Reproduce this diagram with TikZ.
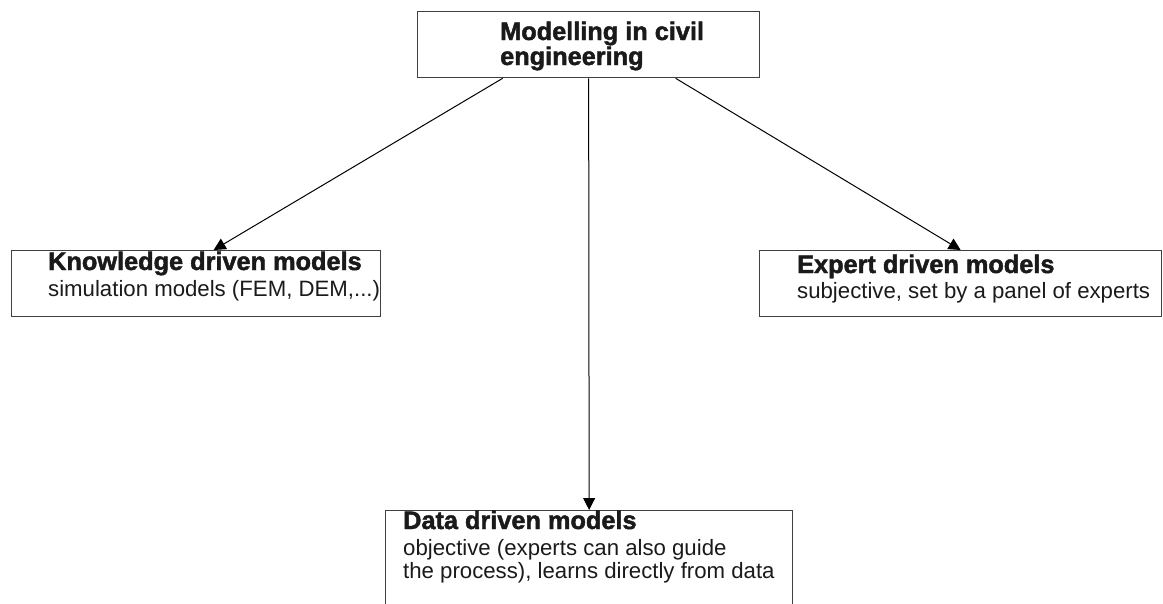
\documentclass[tikz,border=0pt]{standalone}
\usepackage{fontspec}
\setmainfont{Liberation Sans}
\newfontfamily\heavyfont[FakeBold=1.8]{Liberation Sans Bold}
\usetikzlibrary{arrows.meta}
\definecolor{boxgray}{HTML}{404040}
\definecolor{inkgray}{HTML}{1A1A1A}
\begin{document}
\begin{tikzpicture}[x=1pt,y=-1pt,
  box/.style={draw=boxgray, line width=1.3pt, rectangle, inner sep=0pt,
              anchor=north west},
  head/.style={anchor=base west, inner sep=0pt, text=inkgray,
               font=\heavyfont\fontsize{25.3}{30}\selectfont},
  body/.style={anchor=base west, inner sep=0pt, text=inkgray,
               font=\fontsize{22.2}{26}\selectfont},
  link/.style={-{Triangle[length=12pt,width=12pt]}, line width=1pt}]
\clip (0,0) rectangle (1163,603);

% boxes
\node[box, minimum width=342pt, minimum height=66pt] (top) at (417,11) {};
\node[box, minimum width=369pt, minimum height=66pt] (know) at (11,250) {};
\node[box, minimum width=402pt, minimum height=66pt] (expert) at (759,250) {};
\node[box, minimum width=407pt, minimum height=130pt] (data) at (385,510) {};

% texts
\node[head] (topA) at (500,40) {Modelling in civil};
\node[head] (topB) at (500,65) {engineering};
\node[head] (knowA) at (48,270) {Knowledge driven models};
\node[body] (knowB) at (48,296) {simulation models (FEM, DEM,...)};
\node[head] (expertA) at (797,273) {Expert driven models};
\node[body] (expertB) at (797,298) {subjective, set by a panel of experts};
\node[head] (dataA) at (403,529) {Data driven models};
\node[body] (dataB) at (403,555) {objective (experts can also guide};
\node[body] (dataC) at (403,578) {the process), learns directly from data};

% connectors
\draw[link] ([xshift=-86pt]top.south) -- ([xshift=17.5pt]know.north);
\draw[link] (top.south) -- (data.north);
\draw[link] ([xshift=87pt]top.south) -- (expert.north);
\end{tikzpicture}
\end{document}
